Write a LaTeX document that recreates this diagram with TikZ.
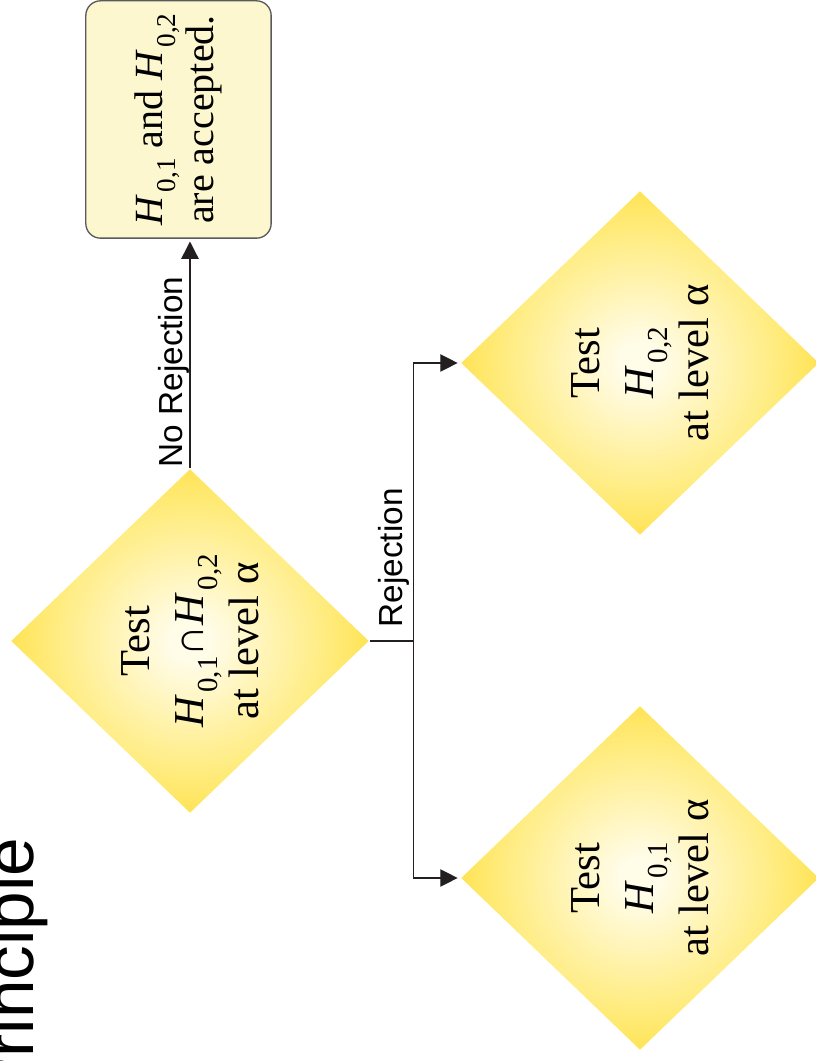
\documentclass[tikz,border=0pt]{standalone}
\usepackage{fontspec}
\setmainfont{Liberation Serif}
\setsansfont{Liberation Sans}
\usepackage{graphicx}
\usepackage{tikz}
\usetikzlibrary{arrows.meta,shapes.geometric,calc}

\definecolor{glowin}{RGB}{255,252,232}
\definecolor{glowmid}{RGB}{255,236,128}
\definecolor{glowout}{RGB}{255,213,16}
\definecolor{boxfill}{RGB}{252,247,206}
\definecolor{boxline}{RGB}{90,90,90}
\definecolor{wire}{RGB}{35,31,32}
\pgfdeclareradialshading{glow}{\pgfpoint{0bp}{0bp}}{color(0bp)=(glowin); color(3bp)=(glowin); color(19bp)=(glowmid); color(35bp)=(glowout); color(50bp)=(glowout)}

\newcommand{\hyp}[1]{\textit{H}\kern0.06em\raisebox{-0.32em}{\scalebox{0.68}{0,#1}}}

\begin{document}
\begin{tikzpicture}[x=0.75pt,y=0.75pt,rotate=90,transform shape,
                    ->,>={Triangle[length=13pt,width=13pt]},shorten >=2pt,
                    line width=1pt,draw=wire]
  \tikzstyle{test}=[diamond,shade,shading=glow,inner sep=0pt,minimum width=258pt,
                    minimum height=268.5pt,align=center,font=\fontsize{32}{41}\selectfont]
  \tikzstyle{verdict}=[rectangle,rounded corners=11pt,draw=boxline,fill=boxfill,
                       minimum width=178pt,minimum height=139pt,align=center,
                       font=\fontsize{30}{38}\selectfont]
  \tikzstyle{branchtext}=[inner sep=0pt,font=\sffamily\fontsize{25}{30}\selectfont]
  \tikzstyle{slidetitle}=[inner sep=0pt,anchor=base east,font=\sffamily\fontsize{52}{60}\selectfont]

  \useasboundingbox (0,0) rectangle (1061,816);

  \node[slidetitle]              (heading) at (224,782)     {Principle};
  \node[test]                    (both)    at (420,626)     {Test\\ \hyp{1}∩\hyp{2}\\ at level α};
  \node[test]                    (second)  at (698,176)     {Test\\ \hyp{2}\\ at level α};
  \node[test]                    (first)   at (183,176)     {Test\\ \hyp{1}\\ at level α};
  \node[verdict]                 (accept)  at (941.5,637.5) {\hyp{1} and \hyp{2}\\ are accepted.};
  \coordinate                    (fork)    at ($(both.south)+(0,-44)$);

  \draw (both.east) -- node[branchtext,above,pos=0.42] (norej) {No Rejection} (both.east -| accept.west);
  \draw[-,shorten >=0pt] (both.south) -- (fork);
  \draw (fork) -- (fork -| second.north) -- (second.north);
  \draw (fork) -- (fork -| first.north) -- (first.north);
  \node[branchtext,anchor=base west] (rej) at ($(fork)+(13,11)$) {Rejection};
\end{tikzpicture}
\end{document}
